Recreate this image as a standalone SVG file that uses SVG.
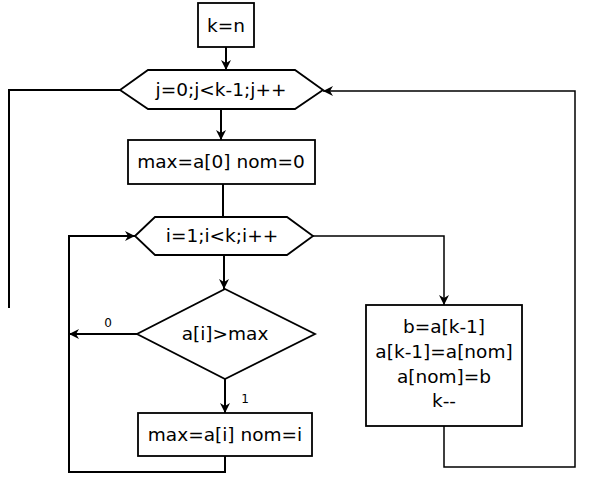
<svg xmlns="http://www.w3.org/2000/svg" width="592" height="479" viewBox="0 0 592 479">
<style>
.shape{fill:#fff;stroke:#000;stroke-width:1.8}
.conn{fill:none;stroke:#000;stroke-width:2}
.thin{stroke-width:1.5}
.t{font-family:"DejaVu Sans","Liberation Sans",sans-serif;font-size:18.5px;fill:#000;text-anchor:middle}
.lbl{font-family:"DejaVu Sans","Liberation Sans",sans-serif;font-size:12px;fill:#000;text-anchor:middle}
</style>
<defs>
<marker id="arr" viewBox="0 0 10 10" refX="10" refY="5" markerWidth="10" markerHeight="10" markerUnits="userSpaceOnUse" orient="auto">
<path d="M0,0 L10,5 L0,10 L3,5 z" fill="#000"/>
</marker>
</defs>
<rect width="592" height="479" fill="#fff"/>
<g id="connectors">
<path class="conn" d="M226,47 V70" marker-end="url(#arr)"/>
<path class="conn" d="M221,109 V140" marker-end="url(#arr)"/>
<path class="conn" d="M223,184 V217"/>
<path class="conn" d="M224,255 V289" marker-end="url(#arr)"/>
<path class="conn" d="M225,379 V413" marker-end="url(#arr)"/>
<path class="conn" d="M225,456 V472 H69 V236 H135" marker-end="url(#arr)"/>
<path class="conn" d="M137,334 H69" marker-end="url(#arr)"/>
<path class="conn" d="M120,90 H9 V308"/>
<path class="conn thin" d="M313,236 H444 V305" marker-end="url(#arr)"/>
<path class="conn thin" d="M444,426 V467 H575 V91 H323" marker-end="url(#arr)"/>
<text class="lbl" x="108" y="327">0</text>
<text class="lbl" x="245" y="403">1</text>
</g>
<g id="start">
<rect class="shape" x="198" y="3" width="56" height="44"/>
<text class="t" x="226" y="32">k=n</text>
</g>
<g id="loopJ">
<polygon class="shape" points="120,90 148,70 295,70 323,90 295,109 148,109"/>
<text class="t" x="221" y="96">j=0;j&lt;k-1;j++</text>
</g>
<g id="init">
<rect class="shape" x="128" y="140" width="187" height="44"/>
<text class="t" x="221" y="168">max=a[0] nom=0</text>
</g>
<g id="loopI">
<polygon class="shape" points="135,236 155,217 287,217 313,236 287,255 155,255"/>
<text class="t" x="222" y="242">i=1;i&lt;k;i++</text>
</g>
<g id="cond">
<polygon class="shape" points="225,289 315,334 225,379 137,334"/>
<text class="t" x="225" y="340">a[i]&gt;max</text>
</g>
<g id="update">
<rect class="shape" x="138" y="413" width="174" height="43"/>
<text class="t" x="225" y="441">max=a[i] nom=i</text>
</g>
<g id="swap">
<rect class="shape" x="366" y="305" width="156" height="121"/>
<text class="t" x="444" y="333">b=a[k-1]</text>
<text class="t" x="444" y="358">a[k-1]=a[nom]</text>
<text class="t" x="444" y="383">a[nom]=b</text>
<text class="t" x="444" y="407">k--</text>
</g>
</svg>
